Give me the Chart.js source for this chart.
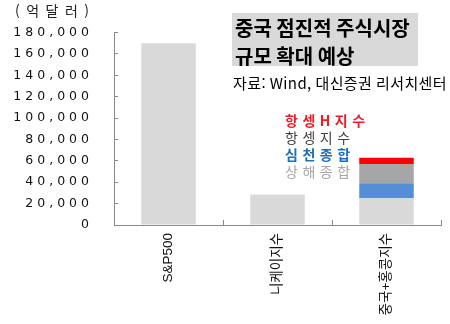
<!DOCTYPE html>
<html lang="ko">
<head>
<meta charset="utf-8">
<script src="https://cdn.jsdelivr.net/npm/chart.js@4"></script>
<style>
  html, body { margin: 0; padding: 0; background: #fff; }
  #wrap { width: 450px; height: 324px; }
</style>
</head>
<body>
<div id="wrap"><canvas id="c" width="450" height="324"></canvas></div>
<script>
// Market capitalisation by index (unit: 100 million USD)
const categories = ['S&P500', '니케이지수', '중국+홍콩지수'];
const singleMarket = [170000, 28500, null];   // US and Japan, one bar each
const shanghai     = [null, null, 25000];     // 상해종합
const shenzhen     = [null, null, 14000];     // 심천종합
const hangSeng     = [null, null, 18000];     // 항셍지수
const hscei        = [null, null, 6000];      // 항셍H지수

const yMax = 180000;
const yStep = 20000;

const unitLabel = '(억달러)';
const titleLines = ['중국 점진적 주식시장', '규모 확대 예상'];
const sourceText = '자료: Wind, 대신증권 리서치센터';
const legendItems = [
  { text: '항셍H지수', color: '#ee1c25', bold: true },
  { text: '항셍지수',  color: '#404040', bold: false },
  { text: '심천종합',  color: '#1f6fb6', bold: true },
  { text: '상해종합',  color: '#a6a6a6', bold: false }
];

const KR = '"Noto Sans CJK KR", "Noto Sans", sans-serif';
const AXIS = '#8a8a8a';

// Wide-tracked y tick labels: spacing is on while the y axis draws,
// and off again before the bars and the x axis labels.
const tracking = {
  id: 'tracking',
  beforeDraw(chart) { chart.ctx.letterSpacing = '4px'; },
  beforeDatasetsDraw(chart) { chart.ctx.letterSpacing = '0px'; },
  afterDraw(chart) { chart.ctx.letterSpacing = '0px'; }
};

// Unit label, headline box, source line and the stack legend
const annotations = {
  id: 'annotations',
  afterDraw(chart) {
    const ctx = chart.ctx;
    ctx.save();
    ctx.textBaseline = 'middle';
    ctx.textAlign = 'left';

    ctx.letterSpacing = '6.5px';
    ctx.fillStyle = '#222';
    ctx.font = '14px ' + KR;
    ctx.fillText(unitLabel, 15, 11);

    ctx.letterSpacing = '0px';
    ctx.fillStyle = '#d9d9d9';
    ctx.fillRect(232, 13, 186, 53);
    ctx.fillStyle = '#000';
    ctx.font = 'bold 20px ' + KR;
    titleLines.forEach((t, i) => ctx.fillText(t, 235, 28 + i * 28));

    ctx.font = '15px ' + KR;
    ctx.letterSpacing = '0.4px';
    ctx.fillStyle = '#000';
    ctx.fillText(sourceText, 233, 83);

    ctx.letterSpacing = '4.5px';
    legendItems.forEach((it, i) => {
      ctx.font = (it.bold ? 'bold ' : '') + '14px ' + KR;
      ctx.fillStyle = it.color;
      ctx.fillText(it.text, 285, 121 + i * 17);
    });
    ctx.restore();
  }
};

const barOpts = { barPercentage: 0.5, categoryPercentage: 1, borderWidth: 0 };

new Chart(document.getElementById('c'), {
  type: 'bar',
  data: {
    labels: categories,
    datasets: [
      { label: '시가총액', data: singleMarket, backgroundColor: '#d9d9d9', ...barOpts },
      { label: '상해종합', data: shanghai, backgroundColor: '#d9d9d9', ...barOpts },
      { label: '심천종합', data: shenzhen, backgroundColor: '#558ed5', ...barOpts },
      { label: '항셍지수', data: hangSeng, backgroundColor: '#a6a6a6', ...barOpts },
      { label: '항셍H지수', data: hscei, backgroundColor: '#ff0000', ...barOpts }
    ]
  },
  options: {
    responsive: false,
    animation: false,
    devicePixelRatio: 1,
    layout: { padding: { top: 29, right: 9, left: 0, bottom: 0 } },
    plugins: { legend: { display: false }, title: { display: false }, tooltip: { enabled: false } },
    scales: {
      x: {
        stacked: true,
        border: { color: AXIS, width: 1, z: 1 },
        grid: { drawOnChartArea: false, drawTicks: true, tickLength: -5, color: AXIS, offset: true, z: 1 },
        ticks: {
          z: 1,
          color: '#111',
          font: { family: '"Liberation Sans", ' + KR, size: 13.5 },
          minRotation: 90, maxRotation: 90, padding: 13, autoSkip: false
        },
        afterFit(s) { s.height = 99; }
      },
      y: {
        stacked: true,
        min: 0, max: yMax,
        border: { color: AXIS, width: 1 },
        grid: { drawOnChartArea: false, drawTicks: true, tickLength: -4, color: AXIS },
        ticks: {
          stepSize: yStep,
          color: '#111',
          padding: 25,
          font: { family: '"DejaVu Sans", sans-serif', size: 12.5 },
          callback: v => v.toLocaleString('en-US')
        },
        afterFit(s) { s.width = 114; }
      }
    }
  },
  plugins: [tracking, annotations]
});
</script>
</body>
</html>
